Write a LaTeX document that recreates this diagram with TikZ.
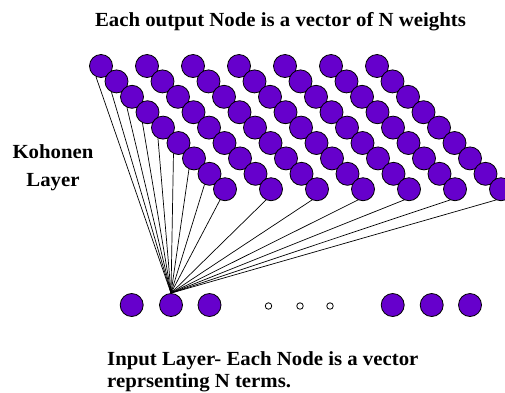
\documentclass[tikz,border=0pt]{standalone}
\usepackage{fontspec}
\setmainfont{Liberation Serif}[FakeStretch=1.04]
\definecolor{kpurple}{RGB}{102,0,204}
\pgfdeclarelayer{bg}
\pgfsetlayers{bg,main}
\begin{document}
\begin{tikzpicture}[x=1pt,y=-1pt,
  kn/.style={circle,draw=black,line width=0.8pt,fill=kpurple,minimum size=23pt,inner sep=0pt},
  smalldot/.style={circle,draw=black,line width=0.8pt,fill=white,minimum size=6.5pt,inner sep=0pt},
  wire/.style={draw=black,line width=0.7pt},
  lbl/.style={font=\fontsize{20}{24}\selectfont\bfseries,inner sep=0pt}]
\useasboundingbox (0,0) rectangle (505,392);
% Kohonen layer: 9 rows x 7 columns, each row shifted right
\foreach \r in {0,...,8}{
  \foreach \c in {0,...,6}{
    \node[kn] (k-\r-\c) at ({101+46*\c+15.5*\r},{66+15.4*\r}) {};
  }}
% input layer
\node[kn] (in-1) at (131.7,305) {};
\node[kn] (in-2) at (171,305) {};
\node[kn] (in-3) at (209.5,305) {};
\node[smalldot] (d-1) at (268.5,306) {};
\node[smalldot] (d-2) at (300,306) {};
\node[smalldot] (d-3) at (330,306) {};
\node[kn] (in-4) at (392.7,305) {};
\node[kn] (in-5) at (431.7,305) {};
\node[kn] (in-6) at (470,305) {};
% connections
\begin{pgfonlayer}{bg}
\foreach \r in {0,...,8}{
  \draw[wire] (in-2.north) -- (k-\r-0.245);
}
\foreach \c in {1,...,6}{
  \draw[wire] (in-2.north) -- (k-8-\c.245);
}
\end{pgfonlayer}
% labels
\node[lbl,anchor=base] (title) at (280.5,26) {Each output Node is a vector of N weights};
\node[lbl,anchor=base] (koh1) at (53,158) {Kohonen};
\node[lbl,anchor=base] (koh2) at (53,186) {Layer};
\node[lbl,anchor=base west] (inp1) at (107,365) {Input Layer- Each Node is a vector};
\node[lbl,anchor=base west] (inp2) at (107,387) {reprsenting N terms.};
\end{tikzpicture}
\end{document}
